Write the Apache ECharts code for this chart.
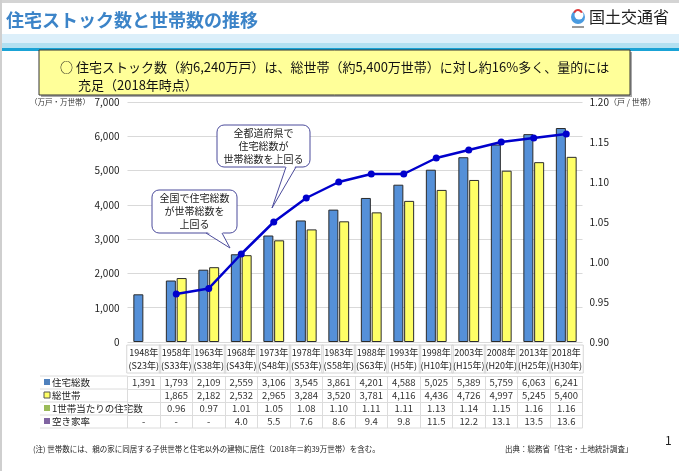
<!DOCTYPE html>
<html><head><meta charset="utf-8">
<script src="https://cdn.jsdelivr.net/npm/echarts@6/dist/echarts.min.js"></script>
<style>html,body{margin:0;padding:0;background:#fff}#c{width:679px;height:471px}</style>
</head><body><div id="c"></div>
<script>
var years = ['1948年','1958年','1963年','1968年','1973年','1978年','1983年','1988年','1993年','1998年','2003年','2008年','2013年','2018年'];
var eras = ['(S23年)','(S33年)','(S38年)','(S43年)','(S48年)','(S53年)','(S58年)','(S63年)','(H5年)','(H10年)','(H15年)','(H20年)','(H25年)','(H30年)'];
var housing = [1391,1793,2109,2559,3106,3545,3861,4201,4588,5025,5389,5759,6063,6241];
var households = [null,1865,2182,2532,2965,3284,3520,3781,4116,4436,4726,4997,5245,5400];
var perHousehold = [null,0.96,0.967,1.01,1.05,1.08,1.10,1.11,1.11,1.13,1.14,1.15,1.155,1.16];
var rowHousing = ['1,391','1,793','2,109','2,559','3,106','3,545','3,861','4,201','4,588','5,025','5,389','5,759','6,063','6,241'];
var rowHouseholds = ['','1,865','2,182','2,532','2,965','3,284','3,520','3,781','4,116','4,436','4,726','4,997','5,245','5,400'];
var rowPer = ['','0.96','0.97','1.01','1.05','1.08','1.10','1.11','1.11','1.13','1.14','1.15','1.16','1.16'];
var rowVacancy = ['-','-','-','4.0','5.5','7.6','8.6','9.4','9.8','11.5','12.2','13.1','13.5','13.6'];
var leftTicks = [0,1000,2000,3000,4000,5000,6000,7000];

var FONT = '"Noto Sans CJK JP","Noto Sans",sans-serif';
var chart = echarts.init(document.getElementById('c'));

function tableAxis(data, offset) {
  return {
    type: 'category', gridIndex: 0, position: 'bottom', offset: offset, data: data,
    axisLine: {show: true, lineStyle: {color: '#dcdcdc', width: 1}},
    axisTick: {show: true, length: 13, lineStyle: {color: '#dcdcdc'}},
    axisLabel: {interval: 0, margin: 0, fontSize: 9.5, lineHeight: 13, color: '#333', fontFamily: FONT},
    splitLine: {show: false}
  };
}

var option = {
  animation: false,
  textStyle: {fontFamily: FONT},
  grid: {left: 127.5, right: 96.5, top: 102, bottom: 129},
  xAxis: [
    {
      type: 'category', data: years,
      axisLine: {show: false},
      axisTick: {show: false},
      axisLabel: {
        interval: 0, margin: 3, fontSize: 9, lineHeight: 13, color: '#222', fontFamily: FONT,
        width: 34, overflow: 'none', align: 'center', borderColor: '#d6d6d6', borderWidth: 1, padding: [1, 0, 1, 0],
        formatter: function (v, i) { return v + '\n' + eras[i]; }
      }
    },
    tableAxis(rowHousing, 34),
    tableAxis(rowHouseholds, 47),
    tableAxis(rowPer, 60),
    tableAxis(rowVacancy, 73)
  ],
  yAxis: [
    {
      type: 'value', min: 0, max: 7000, interval: 1000,
      axisLine: {show: false}, axisTick: {show: false},
      splitLine: {lineStyle: {color: '#d9d9d9'}},
      axisLabel: {margin: 8, fontSize: 10, color: '#222', fontFamily: FONT,
        formatter: function (v) { return v.toLocaleString('en-US'); }}
    },
    {
      type: 'value', min: 0.9, max: 1.2, interval: 0.05, position: 'right',
      axisLine: {show: false}, axisTick: {show: false}, splitLine: {show: false},
      axisLabel: {margin: 7, fontSize: 10, color: '#222', fontFamily: FONT,
        formatter: function (v) { return v.toFixed(2); }}
    }
  ],
  series: [
    {type: 'bar', name: '住宅総数', data: housing, barWidth: 10, barGap: '8%',
      itemStyle: {color: '#5590D8', borderColor: '#2b2b2b', borderWidth: 1}},
    {type: 'bar', name: '総世帯', data: households, barWidth: 10,
      itemStyle: {color: '#FFFF66', borderColor: '#2b2b2b', borderWidth: 1}},
    {type: 'line', name: '1世帯当たりの住宅数', yAxisIndex: 1, data: perHousehold, z: 5,
      symbol: 'circle', symbolSize: 7, connectNulls: false,
      lineStyle: {color: '#0000CC', width: 2.5}, itemStyle: {color: '#0000CC'}}
  ],
  graphic: [
    // slide frame
    {type: 'rect', shape: {x: 0, y: 0, width: 679, height: 3}, style: {fill: '#d4d4d4'}, silent: true},
    {type: 'rect', shape: {x: 0, y: 0, width: 2, height: 471}, style: {fill: '#cfcfcf'}, silent: true},
    // title
    {type: 'text', x: 6, y: 11, style: {text: '住宅ストック数と世帯数の推移', fill: '#3C84C8', font: 'bold 18px ' + FONT}},
    // logo
    {type: 'circle', shape: {cx: 578, cy: 17, r: 7}, style: {fill: '#4A9BE0'}},
    {type: 'circle', shape: {cx: 579, cy: 15, r: 4.5}, style: {fill: '#fff'}},
    {type: 'arc', shape: {cx: 578, cy: 14, r: 4, startAngle: Math.PI * 1.1, endAngle: Math.PI * 1.9}, style: {stroke: '#E03A3A', lineWidth: 2, fill: null}},
    {type: 'rect', shape: {x: 572, y: 26, width: 12, height: 2}, style: {fill: '#9a9a9a'}},
    {type: 'text', x: 589, y: 9, style: {text: '国土交通省', fill: '#222', font: '16px ' + FONT}},
    // header band
    {type: 'rect', shape: {x: 2, y: 34, width: 677, height: 9}, style: {fill: '#DCEFFA'}},
    {type: 'rect', shape: {x: 2, y: 43, width: 677, height: 5}, style: {fill: '#B2E0F1'}},
    {type: 'rect', shape: {x: 2, y: 48, width: 677, height: 3}, style: {fill: '#1AA3D6'}},
    // message box
    {type: 'rect', shape: {x: 41, y: 52, width: 591, height: 45}, style: {fill: '#a8a8a8'}},
    {type: 'rect', shape: {x: 39, y: 50, width: 591, height: 45}, style: {fill: '#FFFF99', stroke: '#333', lineWidth: 1}},
    {type: 'text', x: 60, y: 61, style: {text: '○ 住宅ストック数（約6,240万戸）は、総世帯（約5,400万世帯）に対し約16%多く、量的には', fill: '#111', font: '13px ' + FONT}},
    {type: 'text', x: 78, y: 79, style: {text: '充足（2018年時点）', fill: '#111', font: '13px ' + FONT}},
    // axis units
    {type: 'text', x: 30, y: 102, style: {text: '（万戸・万世帯）', fill: '#333', font: '7.5px ' + FONT, verticalAlign: 'middle'}},
    {type: 'text', x: 609, y: 102, style: {text: '（戸 / 世帯）', fill: '#333', font: '8px ' + FONT, verticalAlign: 'middle'}},
    // callout 1
    {type: 'rect', shape: {x: 152, y: 190, width: 85, height: 43, r: 7}, style: {fill: '#fff', stroke: '#4B4B9B', lineWidth: 1}, z: 10},
    {type: 'polygon', shape: {points: [[206, 231], [222, 231], [230, 248]]}, style: {fill: '#fff'}, z: 11},
    {type: 'polyline', shape: {points: [[206, 233], [230, 248], [222, 233]]}, style: {stroke: '#4B4B9B', lineWidth: 1, fill: null}, z: 11},
    {type: 'text', x: 194.5, y: 211.5, style: {text: '全国で住宅総数\nが世帯総数を\n上回る', fill: '#222', font: '10px ' + FONT, align: 'center', verticalAlign: 'middle', lineHeight: 13}, z: 12},
    // callout 2
    {type: 'rect', shape: {x: 217, y: 125, width: 93, height: 42, r: 7}, style: {fill: '#fff', stroke: '#4B4B9B', lineWidth: 1}, z: 10},
    {type: 'polygon', shape: {points: [[286, 165], [296, 165], [272, 208]]}, style: {fill: '#fff'}, z: 11},
    {type: 'polyline', shape: {points: [[286, 167], [272, 208], [296, 167]]}, style: {stroke: '#4B4B9B', lineWidth: 1, fill: null}, z: 11},
    {type: 'text', x: 263.5, y: 146, style: {text: '全都道府県で\n住宅総数が\n世帯総数を上回る', fill: '#222', font: '10px ' + FONT, align: 'center', verticalAlign: 'middle', lineHeight: 13}, z: 12},
    // table left column lines
    {type: 'line', shape: {x1: 40, y1: 376, x2: 127.5, y2: 376}, style: {stroke: '#dcdcdc'}},
    {type: 'line', shape: {x1: 40, y1: 389, x2: 127.5, y2: 389}, style: {stroke: '#dcdcdc'}},
    {type: 'line', shape: {x1: 40, y1: 402, x2: 127.5, y2: 402}, style: {stroke: '#dcdcdc'}},
    {type: 'line', shape: {x1: 40, y1: 415, x2: 127.5, y2: 415}, style: {stroke: '#dcdcdc'}},
    {type: 'line', shape: {x1: 40, y1: 428, x2: 582.5, y2: 428}, style: {stroke: '#dcdcdc'}},
    // table row labels
    {type: 'rect', shape: {x: 44, y: 379, width: 6, height: 6}, style: {fill: '#4F81BD'}},
    {type: 'text', x: 52, y: 382.5, style: {text: '住宅総数', fill: '#222', font: '9.5px ' + FONT, verticalAlign: 'middle'}},
    {type: 'rect', shape: {x: 44, y: 392, width: 6, height: 6}, style: {fill: '#FFFF66', stroke: '#555', lineWidth: 1}},
    {type: 'text', x: 52, y: 395.5, style: {text: '総世帯', fill: '#222', font: '9.5px ' + FONT, verticalAlign: 'middle'}},
    {type: 'rect', shape: {x: 44, y: 405, width: 6, height: 6}, style: {fill: '#9BBB59'}},
    {type: 'text', x: 52, y: 408.5, style: {text: '1世帯当たりの住宅数', fill: '#222', font: '9.5px ' + FONT, verticalAlign: 'middle'}},
    {type: 'rect', shape: {x: 44, y: 418, width: 6, height: 6}, style: {fill: '#8064A2'}},
    {type: 'text', x: 52, y: 421.5, style: {text: '空き家率', fill: '#222', font: '9.5px ' + FONT, verticalAlign: 'middle'}},
    // footnotes
    {type: 'text', x: 33, y: 445, style: {text: '(注) 世帯数には、親の家に同居する子供世帯と住宅以外の建物に居住（2018年＝約39万世帯）を含む。', fill: '#222', font: '7.5px ' + FONT}},
    {type: 'text', x: 505, y: 445, style: {text: '出典：総務省「住宅・土地統計調査」', fill: '#222', font: '7.5px ' + FONT}},
    {type: 'text', x: 665, y: 434, style: {text: '1', fill: '#222', font: '12px ' + FONT}}
  ]
};
chart.setOption(option);
</script></body></html>
